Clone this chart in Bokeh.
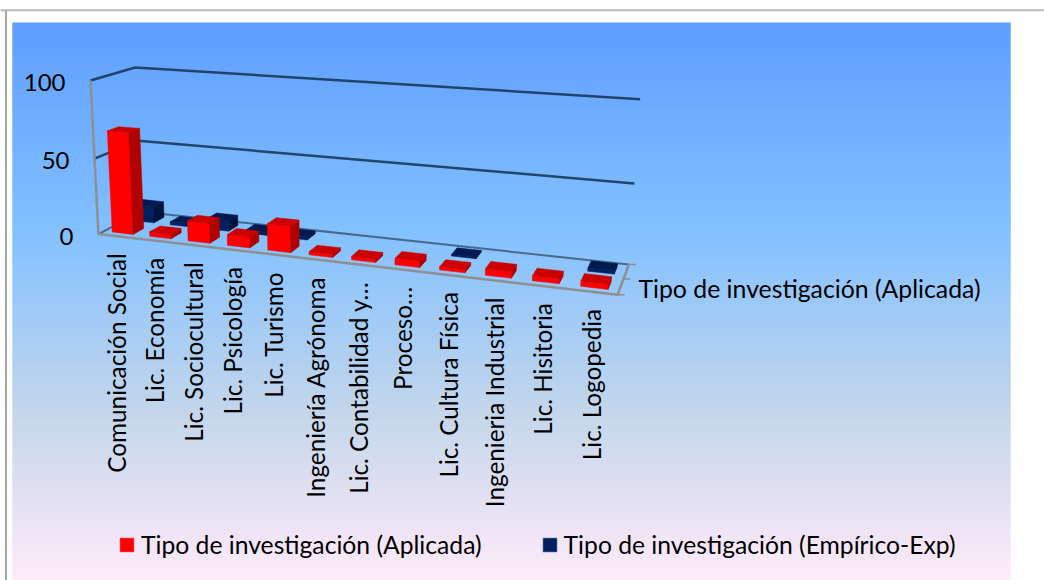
import numpy as np
from bokeh.plotting import figure
from bokeh.models import ColumnDataSource, Legend, LegendItem
from bokeh.core.properties import value
from bokeh.embed import file_html
from bokeh.resources import INLINE

categories = ["Comunicación Social", "Lic. Economía", "Lic. Sociocultural", "Lic. Psicología",
              "Lic. Turismo", "Ingeniería Agrónoma", "Lic. Contabilidad y…", "Proceso…",
              "Lic. Cultura Física", "Ingenieria Industrial", "Lic. Hisitoria", "Lic. Logopedia"]
aplicada = [67, 3, 13, 7, 17, 2, 2, 4, 2, 4, 3, 3]
empirico = [11, 2, 7, 2, 2, 0, 0, 0, 1, 0, 0, 2]
y_ticks = [0, 50, 100]
series_names = ["Tipo de investigación (Aplicada)", "Tipo de investigación (Empírico-Exp)"]

FONT = "Lato"

# camera: fit a perspective projection of the chart box to the screen
box_world = np.array([[0,0,0],[1,0,0],[1,1,0],[0,1,0],[0,0,1],[0,1,1],[1,1,1],[0,0,.5],[0,1,.5],[1,1,.5]], float)
box_screen = np.array([[98,233],[617,295],[627,263],[140,212],[89,80],[135,67],[638,99],[95,158],[138,140],[637,183]], float)
A, b = [], []
for (X, Y, Z), (sx, sy) in zip(box_world, box_screen):
    A.append([X, Y, Z, 1, 0, 0, 0, 0, -sx*X, -sx*Y, -sx*Z]); b.append(sx)
    A.append([0, 0, 0, 0, X, Y, Z, 1, -sy*X, -sy*Y, -sy*Z]); b.append(sy)
m = np.linalg.lstsq(np.array(A), np.array(b), rcond=None)[0]
M = np.append(m, 1).reshape(3, 4)
N = len(categories)

def proj(u, v, z):
    h = M @ np.array([u / N, v, z / y_ticks[-1], 1.0])
    return h[0] / h[2], h[1] / h[2]

p = figure(width=1044, height=580, x_range=(0, 1044), y_range=(580, 0), output_backend="svg",
           toolbar_location=None, min_border=0, x_axis_location=None, y_axis_location=None,
           outline_line_color=None, background_fill_color="white", border_fill_color="white")
p.grid.visible = False

# background gradient (rows overlap so that no white bleeds through their edges)
stops_pos = [0, .39, .70, 1]
stops_col = [(0x5E,0x9E,0xFF),(0x85,0xC2,0xFF),(0xC4,0xD6,0xEB),(0xFF,0xEB,0xFA)]
G0, G1, L, R = 22, 580, 12, 1010
rows = np.arange(G0, G1)
t = (rows + .5 - G0) / (G1 - G0)
cols = ["#%02x%02x%02x" % tuple(int(round(np.interp(a, stops_pos, [c[k] for c in stops_col]))) for k in range(3)) for a in t]
p.quad(left=L, right=R, top=rows, bottom=rows + 2, fill_color=cols, line_color=None)

# page frame
p.segment(0, 9.5, 1044, 9.5, line_color="#8a8a8a", line_width=1)
p.segment(0, 10.5, 1044, 10.5, line_color="#c8c8c8", line_width=1)
p.segment(5.5, 10, 5.5, 580, line_color="#a6a6a6", line_width=2)

# walls
GRID = "#173a5c"
for z in y_ticks:
    a, bl, d = proj(0, 0, z), proj(0, 1, z), proj(N, 1, z)
    xs, ys = zip(a, bl, d)
    p.line(list(xs), list(ys), line_color=GRID if z else "#3f5f7f", line_width=2.5 if z else 2, line_alpha=.9)

# axes frame
AX = "#8f8f8f"
fx, fy = zip(proj(0, 0, y_ticks[-1]), proj(0, 0, 0), proj(N, 0, 0), proj(N, 1, 0))
p.line(list(fx), list(fy), line_color=AX, line_width=2.5)
for v in [0, .5, 1]:
    x0, y0 = proj(N, v, 0)
    p.segment(x0, y0, x0 + 7, y0, line_color=AX, line_width=1.5)

# bars
HALF = 0.28
def bar_faces(vals, v0, v1, front, top, side):
    d = dict(xs=[], ys=[], c=[])
    for i, val in enumerate(vals):
        if val <= 0:
            continue
        u0, u1 = i + .5 - HALF, i + .5 + HALF
        faces = [([(u0,v0,0),(u1,v0,0),(u1,v0,val),(u0,v0,val)], front),
                 ([(u0,v0,val),(u1,v0,val),(u1,v1,val),(u0,v1,val)], top),
                 ([(u1,v0,0),(u1,v1,0),(u1,v1,val),(u1,v0,val)], side)]
        for pts, col in faces:
            xy = [proj(*q) for q in pts]
            d["xs"].append([a[0] for a in xy]); d["ys"].append([a[1] for a in xy]); d["c"].append(col)
    return ColumnDataSource(d)

r_blue = p.patches("xs", "ys", source=bar_faces(empirico, .625, .875, "#002060", "#001a50", "#00143c"),
                   fill_color="c", line_color="c", line_width=.5)
r_red = p.patches("xs", "ys", source=bar_faces(aplicada, .125, .375, "#ff0000", "#cc0000", "#b00000"),
                  fill_color="c", line_color="c", line_width=.5)

# y tick labels
tx = [proj(0, 0, z)[0] - 25 for z in y_ticks]
ty = [proj(0, 0, z)[1] + 2 for z in y_ticks]
p.text(tx, ty, text=[str(z) for z in y_ticks], text_align="right", text_baseline="middle",
       text_font=value(FONT), text_font_size="24px", text_color="black")

# category labels
cx = [proj(i + .5, 0, 0)[0] - 1 for i in range(N)]
cy = [proj(i + .5, 0, 0)[1] + 17 for i in range(N)]
p.text(cx, cy, text=categories, angle=np.pi / 2, text_align="right", text_baseline="middle",
       text_font=value(FONT), text_font_size="24.3px", text_color="black")

# series (depth) axis label
sx, sy = proj(N, .5, 0)
p.text([sx + 15], [sy + 9], text=[series_names[0]], text_align="left", text_baseline="middle",
       text_font=value(FONT), text_font_size="24.8px", text_color="black")

legend = Legend(items=[LegendItem(label=series_names[0], renderers=[r_red], index=0),
                       LegendItem(label=series_names[1], renderers=[r_blue], index=0)],
                orientation="horizontal", location=(118, 21), margin=0, padding=0,
                background_fill_alpha=0, border_line_color=None, glyph_width=17, glyph_height=17,
                label_standoff=6, spacing=59, label_text_font=FONT, label_text_font_size="24.7px",
                label_text_color="black")
p.add_layout(legend, "center")

open("out.html", "w").write(file_html(p, INLINE))
